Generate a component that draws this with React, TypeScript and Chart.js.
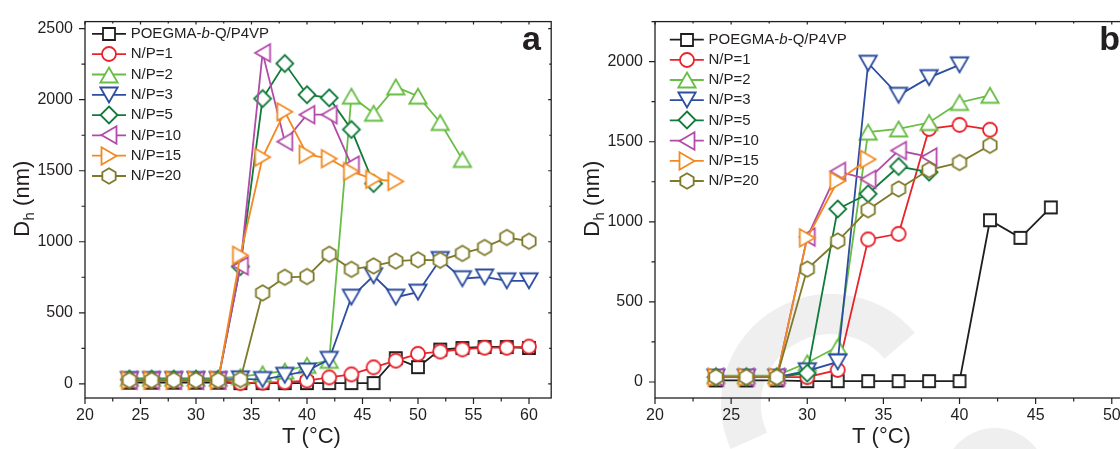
import React, { useEffect, useRef } from 'react';
import { Chart, registerables } from 'chart.js';

Chart.register(...registerables);

const FONT = '"Liberation Sans", Arial, Helvetica, sans-serif';
const TEXT = '#231f20';

// ---------- Panel a data ----------
const T_A = [24, 26, 28, 30, 32, 34, 36, 38, 40, 42, 44, 46, 48, 50, 52, 54, 56, 58, 60];
const A_POEGMA = [8, 8, 8, 8, 8, 5, 5, 5, 5, 5, 5, 5, 180, 117, 241, 252, 259, 259, 252];
const A_NP1 = [20, 20, 20, 20, 20, 5, 8, 11, 23, 45, 66, 116, 163, 211, 227, 242, 254, 254, 262];
const A_NP2 = [40, 40, 40, 40, 40, 50, 70, 90, 130, 165, 2025, 1905, 2090, 2025, 1840, 1580];
const A_NP3 = [30, 30, 30, 30, 30, 35, 30, 60, 90, 172, 610, 760, 610, 645, 875, 740, 752, 725, 725];
const A_NP5 = [30, 30, 30, 30, 30, 825, 2008, 2255, 2035, 2013, 1790, 1410];
const A_NP10 = [25, 25, 25, 25, 25, 830, 2330, 1705, 1895, 1895, 1540];
const A_NP15 = [25, 25, 25, 25, 25, 905, 1595, 1915, 1615, 1585, 1495, 1440, 1425];
const A_NP20 = [25, 25, 25, 25, 25, 30, 640, 750, 755, 912, 806, 830, 864, 873, 870, 918, 960, 1030, 1004];

// ---------- Panel b data ----------
const T_B = [24, 26, 28, 30, 32, 34, 36, 38, 40, 42, 44, 46];
const B_POEGMA = [10, 10, 10, 5, 5, 5, 5, 5, 5, 1010, 900, 1090];
const B_NP1 = [30, 30, 30, 30, 75, 890, 925, 1580, 1605, 1575];
const B_NP2 = [40, 40, 40, 120, 220, 1560, 1580, 1620, 1745, 1790];
const B_NP3 = [30, 30, 30, 70, 125, 1990, 1790, 1900, 1980];
const B_NP5 = [30, 30, 30, 55, 1080, 1175, 1345, 1310];
const B_NP10 = [30, 30, 30, 905, 1315, 1265, 1445, 1405];
const B_NP15 = [30, 30, 30, 900, 1255, 1390];
const B_NP20 = [30, 30, 30, 705, 880, 1075, 1205, 1325, 1370, 1478];

// ---------- ticks ----------
const X_TICKS_A = [20, 25, 30, 35, 40, 45, 50, 55, 60];
const Y_TICKS_A = [0, 500, 1000, 1500, 2000, 2500];
const X_TICKS_B = [20, 25, 30, 35, 40, 45, 50];
const Y_TICKS_B = [0, 500, 1000, 1500, 2000];

const SERIES_LABELS = ['POEGMA-b-Q/P4VP', 'N/P=1', 'N/P=2', 'N/P=3', 'N/P=5', 'N/P=10', 'N/P=15', 'N/P=20'];
const SERIES_COLORS = ['#1e1e1e', '#e8232b', '#68bd45', '#2d4da0', '#127a3b', '#b24aa7', '#f18a22', '#7e7a2a'];
const SERIES_SHAPES = ['square', 'circle', 'triUp', 'triDown', 'diamond', 'triLeft', 'triRight', 'hexagon'];

function makeMarker(shape: string, color: string): HTMLCanvasElement {
  const c = document.createElement('canvas');
  c.width = 26;
  c.height = 26;
  const ctx = c.getContext('2d')!;
  let cx = 13;
  let cy = 13;
  const poly = (R: number, angles: number[]) => {
    angles.forEach((a, i) => {
      const r = (a * Math.PI) / 180;
      const x = cx + R * Math.cos(r);
      const y = cy + R * Math.sin(r);
      if (i) ctx.lineTo(x, y);
      else ctx.moveTo(x, y);
    });
    ctx.closePath();
  };
  ctx.beginPath();
  switch (shape) {
    case 'square':
      ctx.rect(cx - 6, cy - 6, 12, 12);
      break;
    case 'circle':
      ctx.arc(cx, cy, 7, 0, Math.PI * 2);
      break;
    case 'triUp':
      cy += 2.5;
      poly(10, [-90, 30, 150]);
      break;
    case 'triDown':
      cy -= 2.5;
      poly(10, [90, 210, 330]);
      break;
    case 'triLeft':
      cx += 2.5;
      poly(10, [180, 300, 60]);
      break;
    case 'triRight':
      cx -= 2.5;
      poly(10, [0, 120, 240]);
      break;
    case 'diamond':
      poly(8.5, [-90, 0, 90, 180]);
      break;
    case 'hexagon':
      poly(7.7, [-90, -30, 30, 90, 150, 210]);
      break;
  }
  ctx.fillStyle = '#ffffff';
  ctx.fill();
  ctx.lineWidth = 1.8;
  ctx.strokeStyle = color;
  ctx.stroke();
  return c;
}

type PanelCfg = {
  left: number;
  width: number;
  xMin: number;
  xMax: number;
  yMin: number;
  yMax: number;
  xTicks: number[];
  yTicks: number[];
  yAxisWidth: number;
  padRight: number;
  temps: number[];
  series: number[][];
  letter: string;
  letterInset: number;
  legendX: number;
  legendY0: number;
  legendDY: number;
  watermark: boolean;
};

const PANEL_A: PanelCfg = {
  left: 0, width: 560, xMin: 20, xMax: 62, yMin: -100, yMax: 2550,
  xTicks: X_TICKS_A, yTicks: Y_TICKS_A, yAxisWidth: 85, padRight: 3,
  temps: T_A,
  series: [A_POEGMA, A_NP1, A_NP2, A_NP3, A_NP5, A_NP10, A_NP15, A_NP20],
  letter: 'a', letterInset: 10.3, legendX: 24, legendY0: 12.3, legendDY: 20.3, watermark: false,
};

const PANEL_B: PanelCfg = {
  left: 560, width: 600, xMin: 20, xMax: 51, yMin: -100, yMax: 2250,
  xTicks: X_TICKS_B, yTicks: Y_TICKS_B, yAxisWidth: 95, padRight: 33,
  temps: T_B,
  series: [B_POEGMA, B_NP1, B_NP2, B_NP3, B_NP5, B_NP10, B_NP15, B_NP20],
  letter: 'b', letterInset: 7, legendX: 31.8, legendY0: 18, legendDY: 20.2, watermark: true,
};

const framePlugin = {
  id: 'frame',
  beforeDraw(chart: any, _args: any, opts: any) {
    if (!opts.watermark) return;
    const ctx = chart.ctx;
    ctx.save();
    ctx.strokeStyle = '#efefef';
    ctx.fillStyle = '#efefef';
    ctx.lineWidth = 40;
    ctx.beginPath();
    ctx.arc(271, 404, 90, 2.72, 5.58);
    ctx.stroke();
    ctx.beginPath();
    ctx.arc(435, 480, 52, 0, Math.PI * 2);
    ctx.fill();
    ctx.restore();
  },
  afterDraw(chart: any, _args: any, opts: any) {
    const { ctx, chartArea: a, scales } = chart;
    const xs = scales.x;
    const ys = scales.y;
    ctx.save();
    ctx.strokeStyle = TEXT;
    ctx.lineWidth = 1.3;
    ctx.strokeRect(a.left, a.top, a.right - a.left, a.bottom - a.top);

    const xt: number[] = opts.xTicks;
    const yt: number[] = opts.yTicks;
    const step = xt[1] - xt[0];
    const ystep = yt[1] - yt[0];
    ctx.lineWidth = 1.2;
    ctx.beginPath();
    for (let v = xt[0]; v <= xs.max + 1e-6; v += step / 2) {
      const major = Math.abs((v - xt[0]) / step - Math.round((v - xt[0]) / step)) < 1e-6;
      const px = xs.getPixelForValue(v);
      if (px < a.left - 0.5 || px > a.right + 0.5) continue;
      ctx.moveTo(px, a.bottom);
      ctx.lineTo(px, a.bottom + (major ? 6 : 3.5));
      ctx.moveTo(px, a.top);
      ctx.lineTo(px, a.top + (major ? 3 : 2));
    }
    for (let v = yt[0]; v <= ys.max + 1e-6; v += ystep / 2) {
      const major = Math.abs((v - yt[0]) / ystep - Math.round((v - yt[0]) / ystep)) < 1e-6;
      const py = ys.getPixelForValue(v);
      if (py < a.top - 0.5 || py > a.bottom + 0.5) continue;
      ctx.moveTo(a.left, py);
      ctx.lineTo(a.left - (major ? 6 : 3.5), py);
      ctx.moveTo(a.right, py);
      ctx.lineTo(a.right - (major ? 3 : 2), py);
    }
    ctx.stroke();

    // panel letter
    ctx.fillStyle = TEXT;
    ctx.font = `bold 34px ${FONT}`;
    ctx.textAlign = 'right';
    ctx.textBaseline = 'alphabetic';
    ctx.fillText(opts.letter, a.right - opts.letterInset, 49.5);

    // x title
    ctx.font = `22px ${FONT}`;
    ctx.textAlign = 'center';
    ctx.textBaseline = 'middle';
    ctx.fillText('T (°C)', a.left + 226.5, 437);

    // y title with subscript
    ctx.save();
    ctx.translate(a.left - 56, 199);
    ctx.rotate(-Math.PI / 2);
    ctx.textAlign = 'left';
    ctx.textBaseline = 'alphabetic';
    ctx.font = `22px ${FONT}`;
    const w1 = ctx.measureText('D').width;
    const w3 = ctx.measureText(' (nm)').width;
    ctx.font = `15px ${FONT}`;
    const w2 = ctx.measureText('h').width;
    const start = -(w1 + w2 + w3) / 2;
    ctx.font = `22px ${FONT}`;
    ctx.fillText('D', start, 0);
    ctx.font = `15px ${FONT}`;
    ctx.fillText('h', start + w1 + 0.5, 5);
    ctx.font = `22px ${FONT}`;
    ctx.fillText(' (nm)', start + w1 + w2 + 0.5, 0);
    ctx.restore();

    // legend
    const mx = a.left + opts.legendX;
    const markers: HTMLCanvasElement[] = opts.markers;
    for (let i = 0; i < SERIES_LABELS.length; i++) {
      const yy = a.top + opts.legendY0 + i * opts.legendDY;
      ctx.strokeStyle = SERIES_COLORS[i];
      ctx.lineWidth = 1.8;
      ctx.beginPath();
      ctx.moveTo(mx - 17, yy);
      ctx.lineTo(mx + 17, yy);
      ctx.stroke();
      ctx.drawImage(markers[i], Math.round(mx - 13), Math.round(yy - 13));
      ctx.fillStyle = TEXT;
      ctx.textAlign = 'left';
      ctx.textBaseline = 'middle';
      let tx = mx + 21.7;
      if (i === 0) {
        const parts: [string, string][] = [
          ['POEGMA-', ''],
          ['b', 'italic '],
          ['-Q/P4VP', ''],
        ];
        parts.forEach(([t, st]) => {
          ctx.font = `${st}15px ${FONT}`;
          ctx.fillText(t, tx, yy);
          tx += ctx.measureText(t).width;
        });
      } else {
        ctx.font = `15px ${FONT}`;
        ctx.fillText(SERIES_LABELS[i], tx, yy);
      }
    }
    ctx.restore();
  },
};

function Panel({ cfg }: { cfg: PanelCfg }) {
  const ref = useRef<HTMLCanvasElement>(null);
  useEffect(() => {
    const markers = SERIES_SHAPES.map((s, i) => makeMarker(s, SERIES_COLORS[i]));
    const datasets = cfg.series.map((vals, i) => ({
      label: SERIES_LABELS[i],
      data: vals.map((v, j) => ({ x: cfg.temps[j], y: v })),
      borderColor: SERIES_COLORS[i],
      backgroundColor: '#ffffff',
      borderWidth: 1.8,
      pointStyle: markers[i],
      pointRadius: 7,
      pointHoverRadius: 7,
      fill: false,
      tension: 0,
      order: SERIES_LABELS.length - 1 - i,
    }));
    const chart = new Chart(ref.current!, {
      type: 'line',
      data: { datasets } as any,
      options: {
        responsive: false,
        animation: false,
        devicePixelRatio: 1,
        events: [],
        layout: { padding: { top: 14, right: cfg.padRight, left: 0, bottom: 0 } },
        plugins: {
          legend: { display: false },
          tooltip: { enabled: false },
          frame: {
            xTicks: cfg.xTicks,
            yTicks: cfg.yTicks,
            letter: cfg.letter,
            letterInset: cfg.letterInset,
            legendX: cfg.legendX,
            legendY0: cfg.legendY0,
            legendDY: cfg.legendDY,
            watermark: cfg.watermark,
            markers,
          },
        } as any,
        scales: {
          x: {
            type: 'linear',
            min: cfg.xMin,
            max: cfg.xMax,
            grid: { display: false, drawTicks: false },
            border: { display: false },
            ticks: {
              autoSkip: false,
              maxRotation: 0,
              padding: 8,
              color: TEXT,
              font: { size: 16, family: FONT },
              callback: (v: any) => String(v),
            },
            afterBuildTicks: (s: any) => {
              s.ticks = cfg.xTicks.map((v) => ({ value: v }));
            },
            afterFit: (s: any) => {
              s.height = 51;
            },
          },
          y: {
            type: 'linear',
            min: cfg.yMin,
            max: cfg.yMax,
            grid: { display: false, drawTicks: false },
            border: { display: false },
            ticks: {
              autoSkip: false,
              padding: 12,
              color: TEXT,
              font: { size: 16, family: FONT },
              callback: (v: any) => String(v),
            },
            afterBuildTicks: (s: any) => {
              s.ticks = cfg.yTicks.map((v) => ({ value: v }));
            },
            afterFit: (s: any) => {
              s.width = cfg.yAxisWidth;
            },
          },
        },
      } as any,
      plugins: [framePlugin as any],
    });
    return () => chart.destroy();
  }, [cfg]);
  return (
    <canvas
      ref={ref}
      width={cfg.width}
      height={449}
      style={{ position: 'absolute', left: cfg.left, top: 0, width: cfg.width, height: 449 }}
    />
  );
}

export default function App() {
  return (
    <div
      style={{
        position: 'fixed',
        left: 0,
        top: 0,
        width: 1120,
        height: 449,
        overflow: 'hidden',
        background: '#ffffff',
      }}
    >
      <Panel cfg={PANEL_A} />
      <Panel cfg={PANEL_B} />
    </div>
  );
}
